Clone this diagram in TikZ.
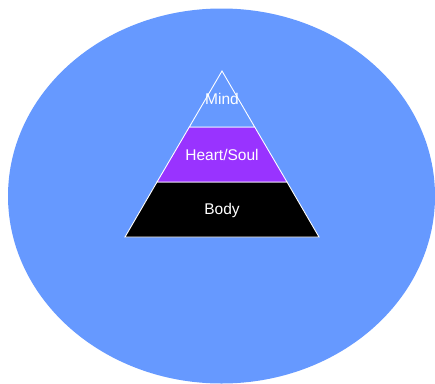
\documentclass[tikz,border=0pt]{standalone}
\usepackage{fontspec}
\setmainfont{Liberation Sans}
\usepackage{xcolor}
\usetikzlibrary{positioning}
\definecolor{skyblue}{HTML}{6699FF}
\definecolor{soulpurple}{HTML}{9933FF}

\begin{document}
\begin{tikzpicture}[x=1pt, y=-1pt,
  tier/.style={draw=white, line width=0.9pt, line join=miter},
  tiertext/.style={text=white, font=\fontsize{15.5}{18}\selectfont, inner sep=0pt},
]

\fill[white] (0,0) rectangle (435,383);
\useasboundingbox (0,0) rectangle (435,383);

% background oval
\fill[skyblue] (221.5,196) ellipse [x radius=213.5, y radius=187.5];

% pyramid corners
\coordinate (apex) at (222,71);
\coordinate (m-l) at (189.3,127);
\coordinate (m-r) at (254.7,127);
\coordinate (h-l) at (157,182);
\coordinate (h-r) at (287,182);
\coordinate (b-l) at (125,237);
\coordinate (b-r) at (319,237);

\draw[tier, fill=black] (h-l) -- (h-r) -- (b-r) -- (b-l) -- cycle;
\draw[tier, fill=soulpurple] (m-l) -- (m-r) -- (h-r) -- (h-l) -- cycle;
\draw[tier, fill=skyblue] (apex) -- (m-r) -- (m-l) -- cycle;

\node[tiertext] (mind) at (222,99) {Mind};
\node[tiertext] (heart) at (222,155) {Heart/Soul};
\node[tiertext] (body) at (222,210) {Body};

\end{tikzpicture}
\end{document}
